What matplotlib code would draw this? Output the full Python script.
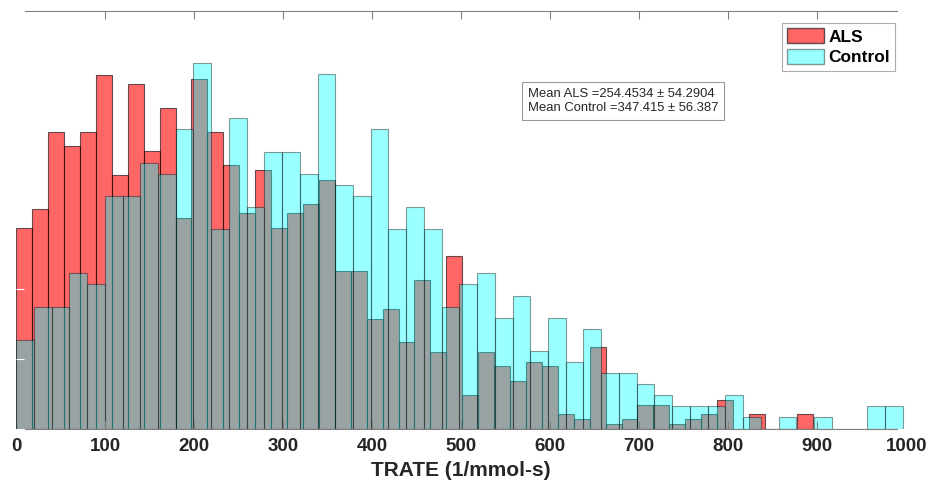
import numpy as np
import matplotlib
matplotlib.use('Agg')
import matplotlib.pyplot as plt
from matplotlib.patches import Patch

plt.rcParams['font.family'] = ['Liberation Sans', 'DejaVu Sans']

# Bin edges (50 bins each, spanning each group's range)
als_edges = np.linspace(0, 895, 51)
ctrl_edges = np.linspace(0, 996, 51)

# Counts per bin
als_counts = [42, 46, 62, 59, 62, 74, 53, 72, 58, 67,
              44, 73, 62, 55, 45, 54, 42, 45, 47, 52,
              33, 33, 23, 25, 18, 31, 16, 36, 7, 16,
              13, 10, 14, 13, 3, 2, 17, 1, 2, 5,
              5, 1, 2, 3, 6, 0, 3, 0, 0, 3]
ctrl_counts = [8, 11, 11, 14, 13, 21, 21, 24, 23, 27,
               33, 18, 28, 20, 25, 25, 23, 32, 22, 21,
               27, 18, 20, 18, 11, 13, 14, 10, 12, 7,
               10, 6, 9, 5, 5, 4, 3, 2, 2, 2,
               3, 1, 0, 1, 0, 1, 0, 0, 2, 2]

mean_als, sd_als = 254.4534, 54.2904
mean_ctrl, sd_ctrl = 347.415, 56.387

als_prob = np.array(als_counts) / np.sum(als_counts)
ctrl_prob = np.array(ctrl_counts) / np.sum(ctrl_counts)

red_face = (1, 0, 0, 0.6)
cyan_face = (0, 1, 1, 0.4)

fig = plt.figure(figsize=(9.32, 4.87), dpi=100)
ax = fig.add_axes([0.01738, 0.1201, 0.9549, 0.8573])

ax.hist(als_edges[:-1], bins=als_edges, weights=als_prob,
        facecolor=red_face, edgecolor=(0, 0, 0, 0.6), linewidth=0.8)
ax.hist(ctrl_edges[:-1], bins=ctrl_edges, weights=ctrl_prob,
        facecolor=cyan_face, edgecolor=(0, 0, 0, 0.4), linewidth=0.8)

ax.set_xlim(0, 1000)
ax.set_ylim(0, 0.06)

# axis styling (MATLAB look, white y axis)
for side in ['left', 'right']:
    ax.spines[side].set_visible(False)
for side in ['top', 'bottom']:
    ax.spines[side].set_color('#808080')
    ax.spines[side].set_linewidth(0.8)
    ax.spines[side].set_bounds(10, 990)

ax.set_xticks(np.arange(0, 1001, 100))
ax.tick_params(axis='x', direction='in', top=True, length=6, width=0.8,
               color='#808080', labelsize=13.5, labelcolor='#262626', pad=7)
for lab in ax.get_xticklabels():
    lab.set_fontweight('bold')
# end ticks fall outside the drawn axis line
for t in (ax.xaxis.get_major_ticks()[0], ax.xaxis.get_major_ticks()[-1]):
    t.tick1line.set_visible(False)
    t.tick2line.set_visible(False)
ax.set_yticks(np.arange(0, 0.061, 0.01))
ax.tick_params(axis='y', direction='in', length=6, width=0.8, color='white',
               labelleft=False)

ax.set_xlabel('TRATE (1/mmol-s)', fontsize=15, fontweight='bold',
              color='#262626', labelpad=4)

handles = [Patch(facecolor=red_face, edgecolor=(0, 0, 0, 0.6), label='ALS'),
           Patch(facecolor=cyan_face, edgecolor=(0, 0, 0, 0.4), label='Control')]
leg = ax.legend(handles=handles, loc='upper right', bbox_to_anchor=(0.9874, 0.9713),
                prop={'weight': 'bold', 'size': 12.5}, frameon=True, fancybox=False,
                handlelength=2.1, handleheight=0.95, handletextpad=0.25,
                borderpad=0.3, labelspacing=0.25, borderaxespad=0)
leg.get_frame().set_edgecolor('#999999')
leg.get_frame().set_linewidth(0.8)

txt = ('Mean ALS =%s \u00b1 %s\nMean Control =%s \u00b1 %s'
       % (mean_als, sd_als, mean_ctrl, sd_ctrl))
ax.text(0.575, 0.7848, txt, transform=ax.transAxes, fontsize=9.4,
        color='#262626', va='center', ha='left', linespacing=1.25,
        bbox=dict(boxstyle='square,pad=0.45', facecolor='white',
                  edgecolor='#999999', linewidth=0.8))

fig.savefig('out.png', dpi=100)
